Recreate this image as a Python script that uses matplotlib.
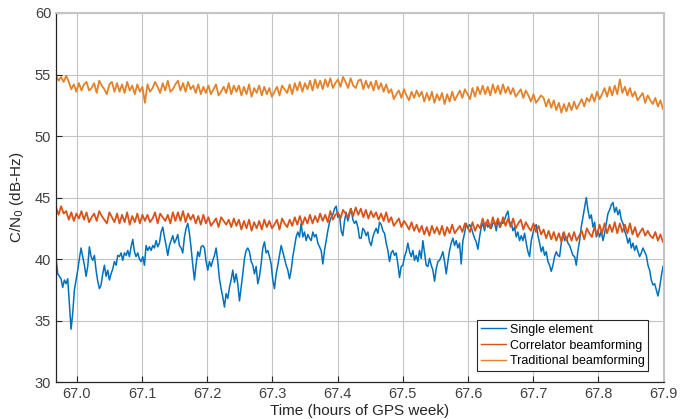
import numpy as np
import matplotlib
matplotlib.use("Agg")
import matplotlib.pyplot as plt

plt.rcParams['font.family'] = ['Liberation Sans', 'DejaVu Sans']

# C/N0 readings, evenly sampled over the time span
t_start, t_end = 66.968, 67.899

single_element = [
    40.05, 38.8, 38.6, 38.4, 37.7, 38.3, 38.0, 38.4, 36.4, 34.3, 35.6, 37.5,
    38.3, 39.1, 40.05, 40.9, 40.2, 39.5, 38.6, 39.4, 41.0, 40.2, 39.9, 40.3,
    39.1, 38.2, 37.6, 37.9, 38.8, 39.5, 38.6, 39.1, 38.3, 38.8, 39.2, 39.8,
    39.5, 40.3, 40.2, 40.5, 39.9, 40.5, 40.3, 40.7, 40.2, 41.0, 41.6, 40.6,
    40.2, 40.5, 40.0, 39.8, 40.2, 39.5, 41.1, 40.7, 41.0, 40.7, 41.1, 40.9,
    41.5, 41.0, 41.3,
    42.2, 42.6, 41.8, 41.1, 40.3, 41.1, 41.5, 41.9, 41.3, 41.6, 42.0, 41.1,
    40.9, 40.5, 41.8, 42.5, 42.9, 42.1, 40.9, 39.5, 38.3, 39.6, 40.6, 40.2,
    41.0, 41.1, 40.9, 39.8, 39.1, 39.8, 39.4, 39.9, 40.3, 40.9, 39.8, 38.4,
    37.6, 36.9, 36.1, 37.2, 36.8, 37.7, 38.3, 39.1, 38.1, 38.8, 38.0, 36.6,
    37.7, 38.8, 40.05, 40.7, 40.9, 40.6, 39.8, 39.5, 38.8, 39.4, 38.0, 38.6,
    39.6, 40.9, 41.4, 40.5, 40.7, 40.2, 39.6, 38.3, 37.6, 38.8, 39.5, 40.3,
    41.1, 40.6, 40.05, 39.5, 39.1, 38.4, 39.1, 40.2, 41.0, 41.8, 42.2, 41.8,
    42.9, 41.8, 42.2, 41.5, 42.0, 41.7, 41.5, 42.2, 41.8, 42.0, 41.3, 41.0,
    40.7, 39.6, 40.7, 41.5, 42.3, 43.0, 43.4, 43.6, 44.1, 44.3, 43.4, 43.6,
    42.3, 41.9, 43.1, 43.8, 43.1, 43.6, 44.1, 43.2, 42.9, 43.1, 42.6, 41.7,
    41.7, 42.5, 42.3, 41.9, 42.2, 41.4, 41.1, 41.8, 42.2, 42.5, 42.1, 43.0,
    42.8, 42.3, 42.1, 41.3, 40.7, 39.8, 40.5, 40.7, 40.3, 40.5, 39.6, 38.5,
    39.4, 39.5, 40.2, 40.6, 41.3, 40.6, 40.2, 40.7, 39.9, 40.3, 39.8, 40.7,
    40.05, 41.5, 40.5, 39.5, 39.4, 40.05, 39.5, 39.1, 38.2, 39.2, 39.8, 39.9,
    40.2, 40.6, 39.8, 38.8, 39.8, 40.7, 41.3, 41.7, 41.1, 41.5, 40.9, 41.3,
    39.6, 41.5, 42.1, 42.9, 42.5, 42.8, 42.6, 42.1, 41.7, 41.4, 40.8, 41.8,
    42.6, 42.9, 42.3, 43.0, 42.6, 42.8, 42.5, 42.9, 43.0, 42.3, 43.2, 42.6,
    43.0, 42.9, 43.2, 43.6, 43.9, 42.9, 43.0, 42.3, 42.6, 41.8, 42.2, 41.5,
    41.9, 41.5, 42.1, 41.3, 40.6, 40.2, 41.5, 42.1, 42.6, 42.8, 41.9, 41.3,
    40.6, 41.0, 40.3, 40.6, 39.8, 39.5, 39.0, 39.5, 40.2, 40.6, 40.3, 40.2,
    41.3, 42.1, 41.5, 41.8, 41.3, 41.1, 40.7, 40.3, 40.2, 39.5, 40.7, 41.5,
    42.6, 43.4, 44.2, 45.0, 44.0, 43.3, 43.6, 42.6, 43.0, 41.8, 42.3, 41.8,
    42.3, 41.5, 42.1, 42.9, 43.7, 44.0, 44.4, 44.6, 43.8, 44.2, 43.6, 44.0,
    43.2, 42.9, 42.3, 41.9, 41.3, 41.7, 40.9, 41.3, 40.7, 41.1, 40.6, 40.2,
    40.5, 40.9, 40.6, 40.3, 39.5, 39.1, 38.3, 37.9, 38.0, 37.5, 37.0, 37.7,
    38.6, 39.4,
]

correlator_bf = [
    44.2, 43.6, 44.3, 43.7, 43.9, 43.2, 43.8, 43.1, 43.7, 43.3, 43.9, 43.2,
    43.8, 43.0, 43.4, 43.7, 43.1, 43.9, 43.5, 43.2, 42.9, 43.8, 43.4, 43.0,
    43.7, 42.9, 43.6, 43.0, 43.8, 42.8, 43.5, 43.0, 43.7, 42.9, 43.6, 43.1,
    43.6, 43.0, 43.3, 43.8, 42.9, 43.7, 43.4, 43.1, 43.6, 42.9, 43.8, 43.1,
    43.8, 43.1, 43.9, 43.0, 43.7, 43.2, 43.6, 42.9, 43.5, 42.8, 43.6, 42.9,
    43.4, 42.7, 43.0, 43.3, 42.6, 43.4, 43.1, 42.8, 43.2, 42.6, 43.3, 42.7,
    43.2, 42.4, 43.1, 42.5, 43.2, 42.3, 43.0, 42.5, 43.1, 42.4, 43.2, 42.6,
    43.1, 42.5, 42.8, 43.2, 42.4, 43.3, 42.9, 42.6, 43.2, 42.7, 43.4, 42.8,
    43.5, 42.8, 43.4, 42.9, 43.6, 42.9, 43.5, 43.0, 43.7, 43.1, 43.6, 43.0,
    43.9, 43.2, 43.6, 43.8, 43.3, 44.0, 43.7, 43.4, 44.1, 43.5, 44.2, 43.6,
    44.1, 43.4, 44.0, 43.3, 43.9, 43.4, 43.8, 43.2, 43.7, 43.1, 43.8, 43.0,
    43.4, 42.7, 43.0, 43.3, 42.6, 43.1, 42.8, 42.4, 43.0, 42.3, 42.8, 42.2,
    42.7, 42.0, 42.6, 41.9, 42.7, 42.1, 42.6, 42.0, 42.7, 41.9, 42.6, 42.1,
    42.8, 42.1, 42.4, 42.7, 42.2, 42.9, 42.6, 42.2, 43.0, 42.3, 42.8, 42.5,
    43.3, 42.6, 43.2, 42.5, 43.4, 42.7, 43.3, 42.6, 43.4, 42.7, 43.3, 42.6,
    43.3, 42.5, 42.9, 43.2, 42.4, 43.0, 42.6, 42.3, 42.9, 42.2, 42.7, 42.0,
    42.4, 41.7, 42.3, 41.6, 42.2, 41.5, 42.1, 41.4, 42.2, 41.5, 42.1, 41.5,
    42.2, 41.5, 41.9, 42.3, 41.6, 42.5, 42.1, 41.8, 42.6, 41.9, 42.8, 42.1,
    42.9, 42.1, 42.8, 42.2, 43.0, 42.1, 42.9, 42.2, 42.8, 42.1, 42.9, 42.0,
    42.6, 41.8, 42.2, 42.5, 41.9, 42.3, 41.9, 41.7, 42.2, 41.5, 42.0, 41.4,
]

traditional_bf = [
    54.9, 54.5, 54.8, 54.4, 54.9, 54.4, 53.8, 54.2, 53.6, 54.3, 53.7, 54.2,
    54.4, 53.7, 53.9, 54.3, 53.5, 54.5, 54.1, 53.8, 53.4, 54.2, 54.4, 53.6,
    54.3, 53.6, 54.2, 53.5, 54.4, 53.7, 54.1, 53.4, 54.2, 53.6, 54.0, 52.7,
    54.2, 53.6, 53.9, 54.4, 54.0, 53.5, 54.3, 53.7, 54.5, 53.6, 53.8, 54.2,
    54.5, 53.7, 54.3, 53.6, 54.4, 53.8, 54.1, 53.5, 54.2, 53.4, 54.0, 53.5,
    54.1, 53.4, 53.8, 54.2, 53.3, 53.6, 54.0, 53.5, 54.3, 53.4, 54.1, 53.6,
    54.1, 53.3, 54.0, 53.4, 54.2, 53.2, 53.9, 53.5, 54.1, 53.3, 54.0, 53.4,
    53.9, 53.2, 53.6, 54.0, 53.3, 54.1, 53.8, 53.5, 54.2, 53.4, 54.3, 53.7,
    54.4, 53.6, 54.3, 53.8, 54.5, 53.7, 54.6, 53.9, 54.5, 53.8, 54.6, 54.0,
    54.7, 53.9, 54.3, 54.6, 54.0, 54.8, 54.4, 53.9, 54.7, 54.1, 53.9, 54.5,
    54.6, 53.8, 54.5, 53.9, 54.4, 53.7, 54.5, 53.8, 54.3, 53.6, 54.2, 53.5,
    53.8, 53.0, 53.4, 53.7, 53.1, 53.8, 53.3, 52.9, 53.6, 53.1, 53.7, 53.2,
    53.6, 52.8, 53.5, 52.9, 53.6, 52.7, 53.4, 52.9, 53.5, 52.6, 53.4, 52.8,
    53.6, 52.9, 53.3, 53.7, 53.1, 53.8, 53.4, 53.0, 53.9, 53.2, 54.0, 53.4,
    54.1, 53.4, 54.0, 53.3, 54.2, 53.5, 54.1, 53.4, 54.2, 53.5, 54.0, 53.4,
    53.9, 53.2, 53.5, 53.8, 53.1, 53.7, 53.3, 52.8, 53.4, 52.7, 53.0, 53.3,
    53.1, 52.4, 53.0, 52.3, 52.9, 52.1, 52.7, 51.9, 52.6, 52.0, 52.7, 52.1,
    52.8, 52.2, 52.6, 53.0, 52.4, 53.1, 52.8, 53.4, 52.8, 53.6, 53.0, 53.4,
    53.9, 53.2, 54.0, 53.3, 54.1, 53.4, 54.6, 53.5, 54.0, 53.3, 53.9, 53.2,
    53.6, 52.9, 53.2, 53.5, 52.7, 53.3, 52.9, 52.6, 53.1, 52.4, 52.9, 52.2,
]

series_names = ['Single element', 'Correlator beamforming', 'Traditional beamforming']
series_colors = ['#0072BD', '#D95319', '#E3822A']
series_widths = [1.1, 1.3, 1.3]

x_ticks = [67.0, 67.1, 67.2, 67.3, 67.4, 67.5, 67.6, 67.7, 67.8, 67.9]
y_ticks = [30, 35, 40, 45, 50, 55, 60]

fig = plt.figure(figsize=(6.92, 4.19), dpi=100)
ax = fig.add_axes([0.081, 0.088, 0.878, 0.881])

for values, name, color, lw in zip([single_element, correlator_bf, traditional_bf],
                                   series_names, series_colors, series_widths):
    t = np.linspace(t_start, t_end, len(values))
    ax.plot(t, values, color=color, lw=lw, label=name)

ax.set_xlim(t_start, 67.9)
ax.set_ylim(30, 60)
ax.set_xticks(x_ticks)
ax.set_xticklabels(['%.1f' % v for v in x_ticks])
ax.set_yticks(y_ticks)
ax.grid(True, color='#c4c4c4', lw=0.8)
ax.set_axisbelow(True)
ax.tick_params(direction='in', length=4, labelsize=10.5, colors='#262626',
               labelcolor='#404040', top=False, right=False)

for side in ['left', 'bottom']:
    ax.spines[side].set_color('#262626')
    ax.spines[side].set_linewidth(0.9)
for side in ['top', 'right']:
    ax.spines[side].set_color('#c4c4c4')
    ax.spines[side].set_linewidth(1.5)

ax.set_xlabel('Time (hours of GPS week)', fontsize=11, color='#262626', labelpad=2)
ax.set_ylabel('C/N$_0$ (dB-Hz)', fontsize=11, color='#262626', labelpad=6)

leg = ax.legend(loc='lower right', fontsize=9, frameon=True, fancybox=False,
                edgecolor='#262626', framealpha=1, borderpad=0.3,
                handlelength=2.0, handletextpad=0.3, labelspacing=0.3,
                borderaxespad=0, bbox_to_anchor=(0.975, 0.03))
leg.get_frame().set_linewidth(0.8)
for line in leg.get_lines():
    line.set_linewidth(1.0)

fig.savefig('out.png', dpi=100)
